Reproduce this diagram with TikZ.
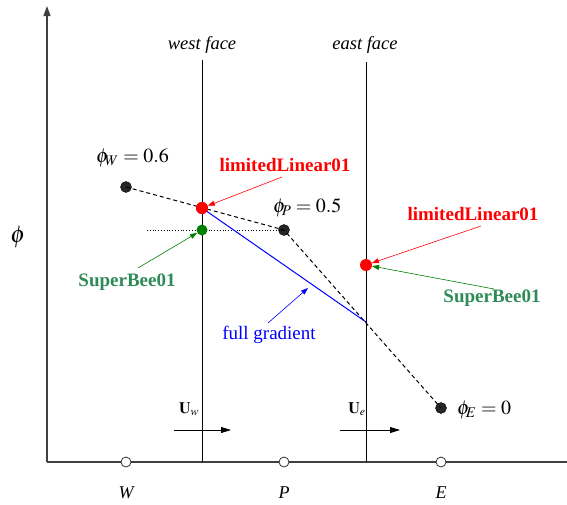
\documentclass[tikz,border=0pt]{standalone}
\usepackage{mathptmx}
\usepackage{fontspec}
\setmainfont{Liberation Serif}
\usetikzlibrary{arrows.meta}
\definecolor{sbgreen}{RGB}{46,139,87}
\definecolor{dkgreen}{RGB}{0,128,0}
\tikzset{
  axis/.style={draw=black!75, line width=1.2pt},
  face/.style={draw=black, line width=0.9pt},
  blackdot/.style={circle, fill=black!85, draw=black, inner sep=0pt, minimum size=11pt},
  reddot/.style={circle, fill=red, inner sep=0pt, minimum size=12pt},
  greendot/.style={circle, fill=dkgreen, inner sep=0pt, minimum size=11pt},
  opendot/.style={circle, fill=white, draw=black!80, line width=0.8pt, inner sep=0pt, minimum size=10pt},
  redlbl/.style={text=red, font=\fontsize{19}{21}\selectfont\bfseries},
  greenlbl/.style={text=sbgreen, font=\fontsize{19}{21}\selectfont\bfseries},
  facelbl/.style={font=\fontsize{18.5}{20}\selectfont\itshape},
  ptlbl/.style={font=\fontsize{18}{20}\selectfont\itshape},
  eqlbl/.style={font=\fontsize{20}{22}\selectfont, anchor=west, inner sep=0pt},
  ptr/.style={-{Triangle[length=7pt,width=5pt]}, line width=0.6pt},
}
\begin{document}
\begin{tikzpicture}[x=1pt, y=-1pt]
\useasboundingbox (0,0) rectangle (567,504);
% axes
\coordinate (O) at (47,462);
\coordinate (Ytop) at (47,6);
\coordinate (Xend) at (570,462);
\draw[axis, -{Triangle[length=10pt,width=7pt]}] (O) -- (Ytop);
\draw[axis] (O) -- (Xend);
\node[font=\fontsize{24}{26}\selectfont] (philbl) at (18,237) {$\phi$};
% faces
\coordinate (wtop) at (202,60);
\coordinate (wbot) at (202,462);
\coordinate (etop) at (366,62);
\coordinate (ebot) at (366,462);
\draw[face] (wtop) -- (wbot);
\draw[face] (etop) -- (ebot);
\node[facelbl] (wfl) at (202,45) {west face};
\node[facelbl] (efl) at (365,45) {east face};
% dashed profile
\node[blackdot] (pW) at (126,187) {};
\node[blackdot] (pP) at (284,230) {};
\node[blackdot] (pE) at (441,408) {};
\coordinate (dotstart) at (147,230);
\draw[dotted, line width=0.8pt] (dotstart) -- (pP.center);
\draw[dashed, line width=1pt, dash pattern=on 4pt off 3pt] (pW.center) -- (pP.center) -- (pE.center);
% blue full gradient
\coordinate (bend) at (366,322);
\node[reddot] (rW) at (202,208) {};
\draw[blue, line width=1pt] (rW.center) -- (bend);
\node[reddot] (rW) at (202,208) {};
\node[greendot] (gW) at (202,230) {};
\node[reddot] (rE) at (366,265) {};
% equation labels
\node[eqlbl] (lW) at (96,158) {$\phi_{\!W} = 0.6$};
\node[eqlbl] (lP) at (273,208) {$\phi_{\!P} = 0.5$};
\node[eqlbl] (lE) at (457,410) {$\phi_{\!E} = 0$};
% scheme labels
\node[redlbl] (ll1) at (285,165) {limitedLinear01};
\node[redlbl] (ll2) at (473,214) {limitedLinear01};
\node[greenlbl] (sb1) at (127,282) {SuperBee01};
\node[greenlbl] (sb2) at (492,298) {SuperBee01};
\node[text=blue, font=\fontsize{19}{21}\selectfont] (fg) at (269,335) {full gradient};
\coordinate (a1s) at (282,177);
\coordinate (a2s) at (481,226);
\coordinate (a3s) at (138,268);
\coordinate (a4s) at (494,289);
\coordinate (a5s) at (268,323);
\coordinate (a5e) at (308,288);
\draw[ptr, red] (a1s) -- (rW);
\draw[ptr, red] (a2s) -- (rE);
\draw[ptr, dkgreen] (a3s) -- (gW);
\draw[ptr, dkgreen] (a4s) -- (rE);
\draw[ptr, blue] (a5s) -- (a5e);
% velocity arrows
\node[font=\fontsize{16}{18}\selectfont] (uw) at (189,409) {$\mathbf{U}_{w}$};
\node[font=\fontsize{16}{18}\selectfont] (ue) at (357,409) {$\mathbf{U}_{e}$};
\coordinate (uws) at (174,430);
\coordinate (uwe) at (231,430);
\coordinate (ues) at (340,430);
\coordinate (uee) at (400,430);
\draw[line width=0.8pt, -{Triangle[length=10pt,width=6pt]}] (uws) -- (uwe);
\draw[line width=0.8pt, -{Triangle[length=10pt,width=6pt]}] (ues) -- (uee);
% nodes on axis
\node[opendot] (nW) at (126,462) {};
\node[opendot] (nP) at (284,462) {};
\node[opendot] (nE) at (441,462) {};
\node[ptlbl] (tW) at (126,493) {W};
\node[ptlbl] (tP) at (284,493) {P};
\node[ptlbl] (tE) at (441,493) {E};
\end{tikzpicture}
\end{document}
